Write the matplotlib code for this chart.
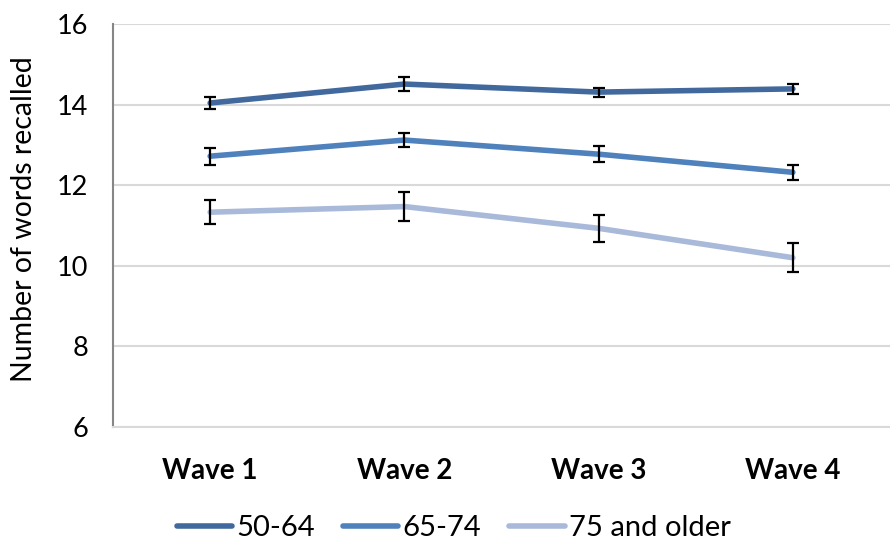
import matplotlib
matplotlib.use("Agg")
import matplotlib.pyplot as plt
import numpy as np

plt.rcParams['font.family'] = ['Lato', 'DejaVu Sans']

categories = ["Wave 1", "Wave 2", "Wave 3", "Wave 4"]
series_names = ["50-64", "65-74", "75 and older"]
vals_50_64 = [14.04, 14.51, 14.31, 14.39]
err_50_64 = [0.16, 0.17, 0.11, 0.12]
vals_65_74 = [12.72, 13.12, 12.77, 12.32]
err_65_74 = [0.21, 0.17, 0.20, 0.19]
vals_75 = [11.33, 11.47, 10.93, 10.20]
err_75 = [0.30, 0.36, 0.33, 0.36]
yticks = [6, 8, 10, 12, 14, 16]

colors = ["#41699D", "#4F81BD", "#A9B9D9"]

fig = plt.figure(figsize=(8.9, 5.44), dpi=100)
ax = fig.add_axes([113/890, 117/544, 1 - 113/890, (427-24)/544])

x = np.arange(len(categories))
for vals, errs, c, name in zip([vals_50_64, vals_65_74, vals_75],
                               [err_50_64, err_65_74, err_75],
                               colors, series_names):
    ax.plot(x, vals, color=c, lw=4, label=name, solid_capstyle='round', zorder=3)
    ax.errorbar(x, vals, yerr=errs, fmt='none', ecolor='black', elinewidth=1.6,
                capsize=4, capthick=1.6, zorder=4)

ax.set_xlim(-0.5, len(categories) - 0.5)
ax.set_ylim(6, 16)
ax.set_yticks(yticks)
ax.set_yticklabels([str(t) for t in yticks], fontsize=19.5)
ax.set_xticks(x)
ax.set_xticklabels(categories, fontsize=20, fontweight='bold')
ax.tick_params(axis='both', length=0)
ax.tick_params(axis='y', pad=18)
ax.tick_params(axis='x', pad=22)
ax.yaxis.grid(True, color='#D9D9D9', lw=1.5, zorder=0)
ax.set_axisbelow(True)
for s in ['top', 'right']:
    ax.spines[s].set_visible(False)
ax.spines['left'].set_color('#868686')
ax.spines['left'].set_linewidth(1.5)
ax.spines['bottom'].set_color('#D9D9D9')
ax.spines['bottom'].set_linewidth(1.5)

ax.set_ylabel("Number of words recalled", fontsize=20.5)
ax.yaxis.set_label_coords(-0.098, 0.515)

handles, labels = ax.get_legend_handles_labels()
fig.legend(handles, labels, loc='center', bbox_to_anchor=(0.51, 16/544),
           ncol=3, frameon=False, fontsize=21, handlelength=1.9,
           handletextpad=0.15, columnspacing=0.95)

fig.savefig("out.png", dpi=100)
